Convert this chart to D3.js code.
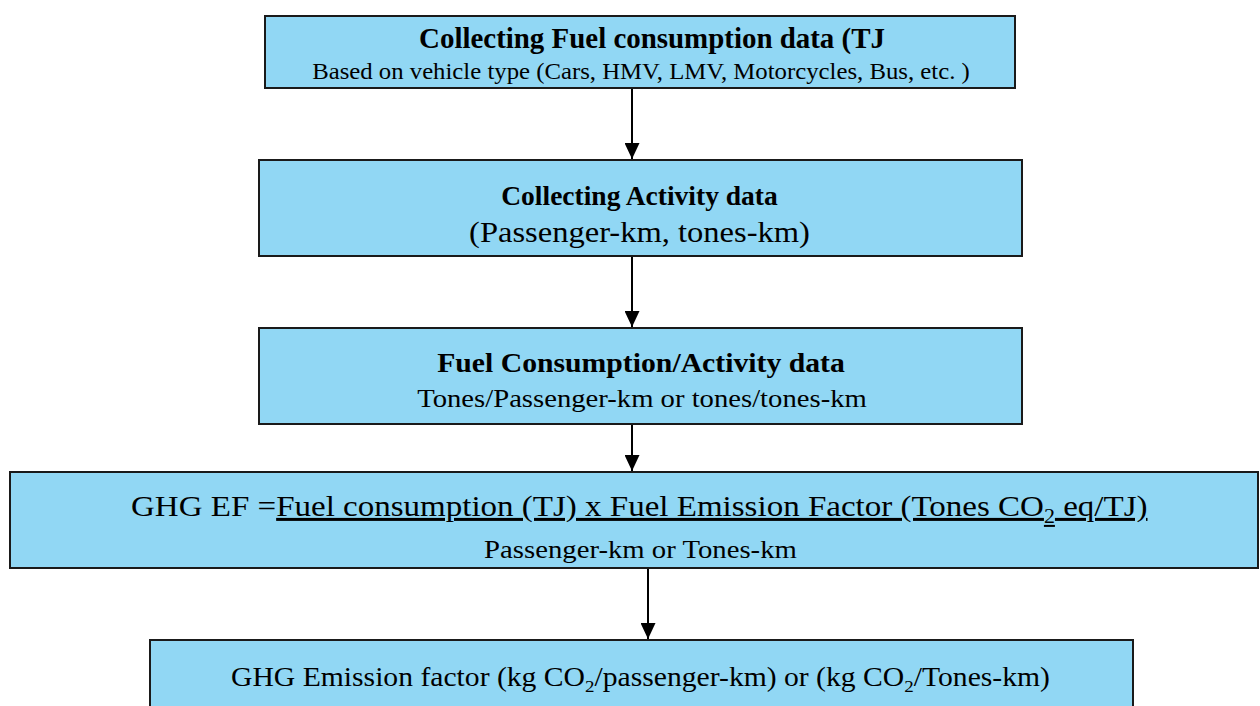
<!DOCTYPE html>
<html><head><meta charset="utf-8">
<script src="https://cdn.jsdelivr.net/npm/d3@7"></script>
<style>
html,body{margin:0;padding:0;background:#fff;}
svg{display:block;font-family:"Liberation Serif","Times New Roman",serif;}
</style></head>
<body>
<svg id="c" width="1260" height="706"></svg>
<script>
// Flow steps (content only)
const steps = ["fuel", "activity", "ratio", "formula", "factor"];
const titles = [
  "Collecting Fuel consumption data (TJ",
  "Collecting Activity data",
  "Fuel Consumption/Activity data",
  null,
  null
];
const subtitles = [
  "Based on vehicle type (Cars, HMV, LMV, Motorcycles, Bus, etc. )",
  "(Passenger-km, tones-km)",
  "Tones/Passenger-km or tones/tones-km",
  "Passenger-km or Tones-km",
  null
];
const formulaLead = "GHG EF =";
const formulaNumerator = ["Fuel consumption (TJ)  x Fuel Emission Factor (Tones CO", "2", " eq/TJ)"];
const factorParts = ["GHG Emission factor (kg CO", "2", "/passenger-km) or (kg CO", "2", "/Tones-km)"];

const svg = d3.select("#c");
const fill = "#91d7f4";

// layout
const boxes = [
  {x0: 265, x1: 1015, y0: 16, y1: 88},
  {x0: 259, x1: 1022, y0: 160, y1: 256},
  {x0: 259, x1: 1022, y0: 328, y1: 424},
  {x0: 10, x1: 1258, y0: 472, y1: 568},
  {x0: 150, x1: 1133, y0: 640, y1: 720}
];
const arrowX = [632, 632, 632, 648];

// horizontally fit a text node to a target width around an anchor x
function fit(sel, ax, w) {
  const bw = sel.node().getBBox().width;
  const s = w / bw;
  sel.attr("transform", `translate(${ax},0) scale(${s},1) translate(${-ax},0)`);
}

const g = svg.selectAll("g.step").data(steps).join("g").attr("class", "step");
g.append("rect")
  .attr("x", (d, i) => boxes[i].x0).attr("y", (d, i) => boxes[i].y0)
  .attr("width", (d, i) => boxes[i].x1 - boxes[i].x0)
  .attr("height", (d, i) => boxes[i].y1 - boxes[i].y0)
  .attr("fill", fill).attr("stroke", "#1a1a1a").attr("stroke-width", 2);

const titleLay = [
  {cx: 652, y: 48, fs: 29, w: 466},
  {cx: 639.5, y: 205, fs: 27, w: 277},
  {cx: 641, y: 372, fs: 28, w: 408}
];
g.filter((d, i) => titles[i]).each(function(d) {
  const i = steps.indexOf(d);
  const L = titleLay[i];
  const t = d3.select(this).append("text")
    .attr("x", L.cx).attr("y", L.y)
    .attr("text-anchor", "middle").attr("font-weight", "bold")
    .attr("font-size", L.fs).text(titles[i]);
  fit(t, L.cx, L.w);
});

const subLay = [
  {cx: 641, y: 79, fs: 24, w: 658},
  {cx: 639.5, y: 242, fs: 29.5, w: 341},
  {cx: 642, y: 407, fs: 25.5, w: 450},
  {cx: 640.5, y: 558, fs: 25.5, w: 313}
];
g.filter((d, i) => subtitles[i]).each(function(d) {
  const i = steps.indexOf(d);
  const L = subLay[i];
  const t = d3.select(this).append("text")
    .attr("x", L.cx).attr("y", L.y)
    .attr("text-anchor", "middle")
    .attr("font-size", L.fs).text(subtitles[i]);
  fit(t, L.cx, L.w);
});

// formula line
const f = svg.append("text").attr("x", 131).attr("y", 516).attr("font-size", 30);
f.append("tspan").text(formulaLead);
const u = "underline";
f.append("tspan").attr("text-decoration", u).text(formulaNumerator[0]);
f.append("tspan").attr("text-decoration", u).attr("font-size", 20).attr("dy", 7).text(formulaNumerator[1]);
f.append("tspan").attr("text-decoration", u).attr("dy", -7).text(formulaNumerator[2]);
fit(f, 131, 1017);

// last box text
const t5 = svg.append("text").attr("x", 640.5).attr("y", 686).attr("font-size", 26.5).attr("text-anchor", "middle");
factorParts.forEach((p, k) => {
  const ts = t5.append("tspan").text(p);
  if (p === "2") ts.attr("font-size", 17).attr("dy", 6);
  else if (k > 0) ts.attr("dy", -6);
});
fit(t5, 640.5, 819);

// arrows
svg.append("defs").append("marker").attr("id", "ah")
  .attr("viewBox", "0 0 16 15").attr("refX", 16).attr("refY", 7.5)
  .attr("markerWidth", 16).attr("markerHeight", 15).attr("markerUnits", "userSpaceOnUse")
  .attr("orient", "auto")
  .append("path").attr("d", "M0,0 L16,7.5 L0,15 Z").attr("fill", "#000");

svg.selectAll("line.arrow").data(arrowX).join("line").attr("class", "arrow")
  .attr("x1", d => d).attr("x2", d => d)
  .attr("y1", (d, i) => boxes[i].y1 + 1)
  .attr("y2", (d, i) => boxes[i + 1].y0 - 1)
  .attr("stroke", "#000").attr("stroke-width", 2)
  .attr("marker-end", "url(#ah)");
</script>
</body></html>
